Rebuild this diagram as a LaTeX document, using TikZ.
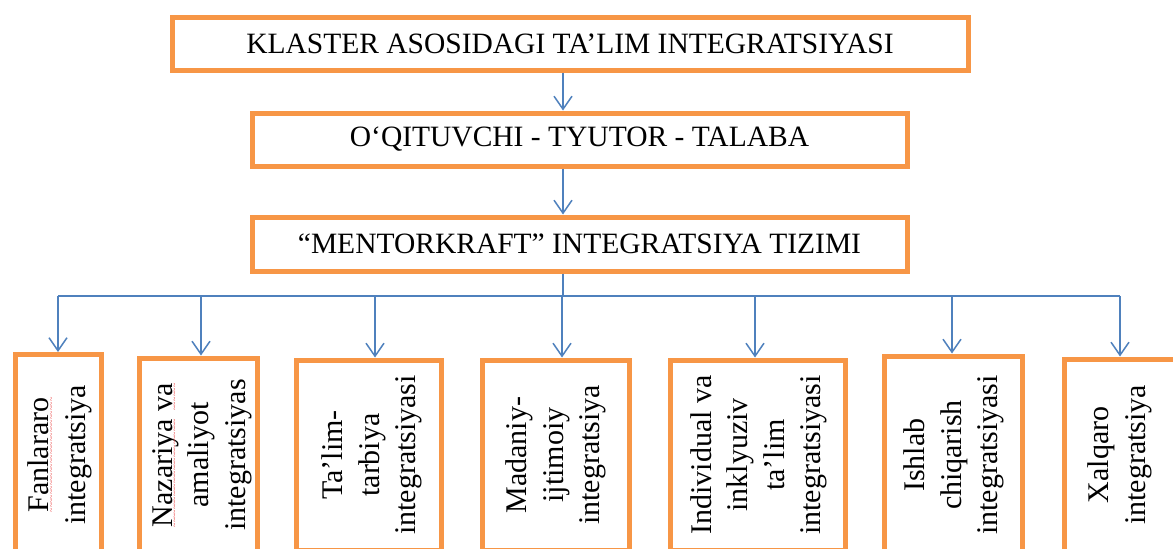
\documentclass[tikz,border=0pt]{standalone}
\usepackage{fontspec}
\setmainfont{Liberation Serif}
\usetikzlibrary{arrows.meta}
\definecolor{boxorange}{RGB}{247,150,70}
\definecolor{linkblue}{RGB}{79,129,189}
\definecolor{spellred}{RGB}{235,60,60}
\newcommand\redwavy[1]{\setbox0=\hbox{#1}\leavevmode\rlap{\copy0}\lower5pt\hbox to \wd0{\color{spellred}\fontsize{8}{8}\selectfont\xleaders\hbox{\char`\~}\hfil}}
\begin{document}
\begin{tikzpicture}[x=1pt,y=-1pt,
  topbox/.style={draw=boxorange,line width=5pt,inner sep=0pt,font=\fontsize{29.5}{34}\selectfont},
  colbox/.style={draw=boxorange,line width=5pt,inner sep=0pt},
  vtext/.style={rotate=90,align=center,inner sep=0pt,font=\fontsize{30}{36.5}\selectfont},
  link/.style={draw=linkblue,line width=1.5pt},
  arr/.style={link,-{Straight Barb[length=13pt,width=18pt]}}]
\useasboundingbox (0,0) rectangle (1173,549);
\clip (0,0) rectangle (1173,549);
\fill[white] (0,0) rectangle (1173,549);

\node[topbox,minimum width=796pt,minimum height=53pt] (top) at (570,43.5) {KLASTER ASOSIDAGI TA’LIM INTEGRATSIYASI};
\node[topbox,minimum width=655pt,minimum height=53pt] (mid) at (579.5,139.5) {O‘QITUVCHI - TYUTOR - TALABA};
\node[topbox,minimum width=655pt,minimum height=54pt] (sys) at (579.5,244) {“MENTORKRAFT” INTEGRATSIYA TIZIMI};

\node[colbox,minimum width=86pt,minimum height=201pt] (b1) at (58.5,455) {};
\node[colbox,minimum width=118pt,minimum height=194pt] (b2) at (198.5,455) {};
\node[colbox,minimum width=145pt,minimum height=190pt] (b3) at (369,455) {};
\node[colbox,minimum width=147pt,minimum height=190pt] (b4) at (556,455) {};
\node[colbox,minimum width=175pt,minimum height=190pt] (b5) at (758,455) {};
\node[colbox,minimum width=138pt,minimum height=198pt] (b6) at (953.5,455) {};
\node[colbox,minimum width=125pt,minimum height=192pt] (b7) at (1127,455) {};

\node[vtext] (t1) at (60,455) {\redwavy{Fanlararo}\\integratsiya};
\node[vtext] (t2) at (202,455) {\redwavy{Nazariya} \redwavy{va}\\amaliyot\\integratsiyas};
\node[vtext] (t3) at (372,455) {Ta’lim-\\tarbiya\\integratsiyasi};
\node[vtext] (t4) at (556,455) {Madaniy-\\ijtimoiy\\integratsiya};
\node[vtext] (t5) at (759,455) {Individual va\\inklyuziv\\ta’lim\\integratsiyasi};
\node[vtext] (t6) at (954,455) {Ishlab\\chiqarish\\integratsiyasi};
\node[vtext] (t7) at (1120,455) {Xalqaro\\integratsiya};

\coordinate (sp) at (563,0);
\coordinate (hj) at (563,296);
\coordinate (a1) at (58,296);
\coordinate (a2) at (201,296);
\coordinate (a3) at (375,296);
\coordinate (a4) at (562,296);
\coordinate (a5) at (755,296);
\coordinate (a6) at (952,296);
\coordinate (a7) at (1120,296);

\draw[arr] (top.south -| sp) -- (mid.north -| sp);
\draw[arr] (mid.south -| sp) -- (sys.north -| sp);
\draw[link] (sys.south -| sp) -- (hj);
\draw[link] (a1) -- (a7);
\foreach \i in {1,...,7}{\draw[arr] (a\i) -- (a\i |- b\i.north);}
\end{tikzpicture}
\end{document}
